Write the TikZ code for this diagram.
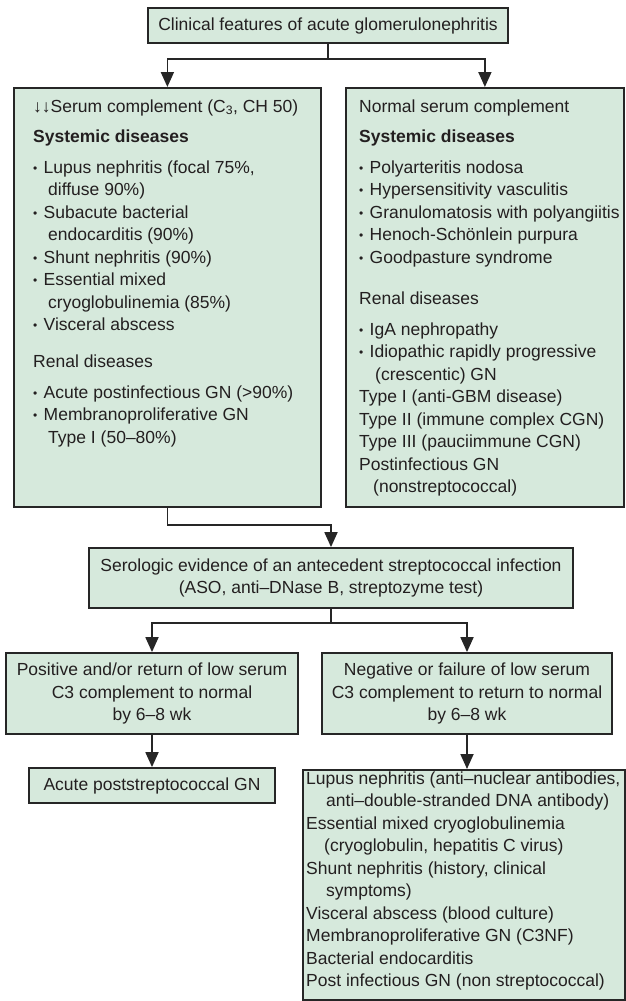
\documentclass[tikz,border=0pt]{standalone}
\usepackage{fontspec}
\setmainfont{Liberation Sans}
\usetikzlibrary{arrows.meta}

\definecolor{boxfill}{RGB}{214,233,220}
\definecolor{boxline}{RGB}{38,38,38}
\definecolor{ink}{RGB}{35,31,32}

\newcommand{\bul}{\makebox[10.5pt][l]{\fontsize{12}{12}\selectfont\raisebox{1pt}{•}}}
\newcommand{\ind}[1]{\hspace*{#1pt}}

\begin{document}
\begin{tikzpicture}[x=1pt,y=-1pt,box/.style={draw=boxline,fill=boxfill,
        line width=1.8pt,inner sep=0pt,text=ink,align=center,
        font=\fontsize{17.5}{22.5}\selectfont},arr/.style={draw=boxline,
        line width=1.8pt,-{Triangle[length=15pt,width=13pt]}}]

    \useasboundingbox (0,0) rectangle (625,1001);

    % the boxes
    \node[box,minimum width=360pt,minimum height=35pt] (top) at (328,25.5)
      {Clinical features of acute glomerulonephritis};
    \node[box,anchor=north west,minimum width=307pt,minimum height=419pt] (low) at (13,87) {};
    \node[box,anchor=north west,minimum width=278pt,minimum height=419pt] (high) at (345,87) {};
    \node[box,minimum width=484pt,minimum height=60pt] (sero) at (331,578)
      {Serologic evidence of an antecedent streptococcal infection\\
       (ASO, anti–DNase B, streptozyme test)};
    \node[box,minimum width=292pt,minimum height=81pt] (pos) at (152,693.5)
      {Positive and/or return of low serum\\C3 complement to normal\\by 6–8 wk};
    \node[box,minimum width=290pt,minimum height=81pt] (neg) at (467,693.5)
      {Negative or failure of low serum\\C3 complement to return to normal\\by 6–8 wk};
    \node[box,minimum width=246pt,minimum height=35pt] (acute) at (152,785.5)
      {Acute poststreptococcal GN};
    \node[box,anchor=north west,minimum width=322pt,minimum height=230pt] (diff) at (302,769) {};

    % the texts
    \tikzstyle{list}=[anchor=base west,inner sep=0pt,text=ink,
      font=\fontsize{17.5}{22.5}\selectfont]

    \node[list] (lowtext) at (33,112) {\parbox[t]{285pt}{%
      ↓↓Serum complement (C\textsubscript{3}, CH 50)\\[7.5pt]
      \textbf{Systemic diseases}\\[8.5pt]
      \bul Lupus nephritis (focal 75\%,\\
      \ind{15}diffuse 90\%)\\
      \bul Subacute bacterial\\
      \ind{15}endocarditis (90\%)\\
      \bul Shunt nephritis (90\%)\\
      \bul Essential mixed\\
      \ind{15}cryoglobulinemia (85\%)\\
      \bul Visceral abscess\\[14pt]
      Renal diseases\\[8.5pt]
      \bul Acute postinfectious GN (>90\%)\\
      \bul Membranoproliferative GN\\
      \ind{15}Type I (50–80\%)}};

    \node[list] (hightext) at (359,112) {\parbox[t]{262pt}{%
      Normal serum complement\\[7.5pt]
      \textbf{Systemic diseases}\\[8.5pt]
      \bul Polyarteritis nodosa\\
      \bul Hypersensitivity vasculitis\\
      \bul Granulomatosis with polyangiitis\\
      \bul Henoch-Schönlein purpura\\
      \bul Goodpasture syndrome\\[18.5pt]
      Renal diseases\\[8.5pt]
      \bul IgA nephropathy\\
      \bul Idiopathic rapidly progressive\\
      \ind{16}(crescentic) GN\\
      Type I (anti-GBM disease)\\
      Type II (immune complex CGN)\\
      Type III (pauciimmune CGN)\\
      Postinfectious GN\\
      \ind{14}(nonstreptococcal)}};

    \node[list] (difftext) at (306,784) {\parbox[t]{316pt}{%
      Lupus nephritis (anti–nuclear antibodies,\\
      \ind{20}anti–double-stranded DNA antibody)\\
      Essential mixed cryoglobulinemia\\
      \ind{18}(cryoglobulin, hepatitis C virus)\\
      Shunt nephritis (history, clinical\\
      \ind{20}symptoms)\\
      Visceral abscess (blood culture)\\
      Membranoproliferative GN (C3NF)\\
      Bacterial endocarditis\\
      Post infectious GN (non streptococcal)}};

    % the arrows
    \coordinate (split) at (328,59);
    \coordinate (join) at (331,623);

    \draw[arr] (top.south) -- (split) -| (low.north);
    \draw[arr] (split) -| (high.north);
    \draw[arr] (low.south) -- ++(0,17) -| (sero.north);
    \draw[arr] (sero.south) -- (join) -| (pos.north);
    \draw[arr] (join) -| (neg.north);
    \draw[arr] (pos.south) -- (acute.north);
    \draw[arr] (neg.south) -- (neg.south |- diff.north);

  \end{tikzpicture}
\end{document}
